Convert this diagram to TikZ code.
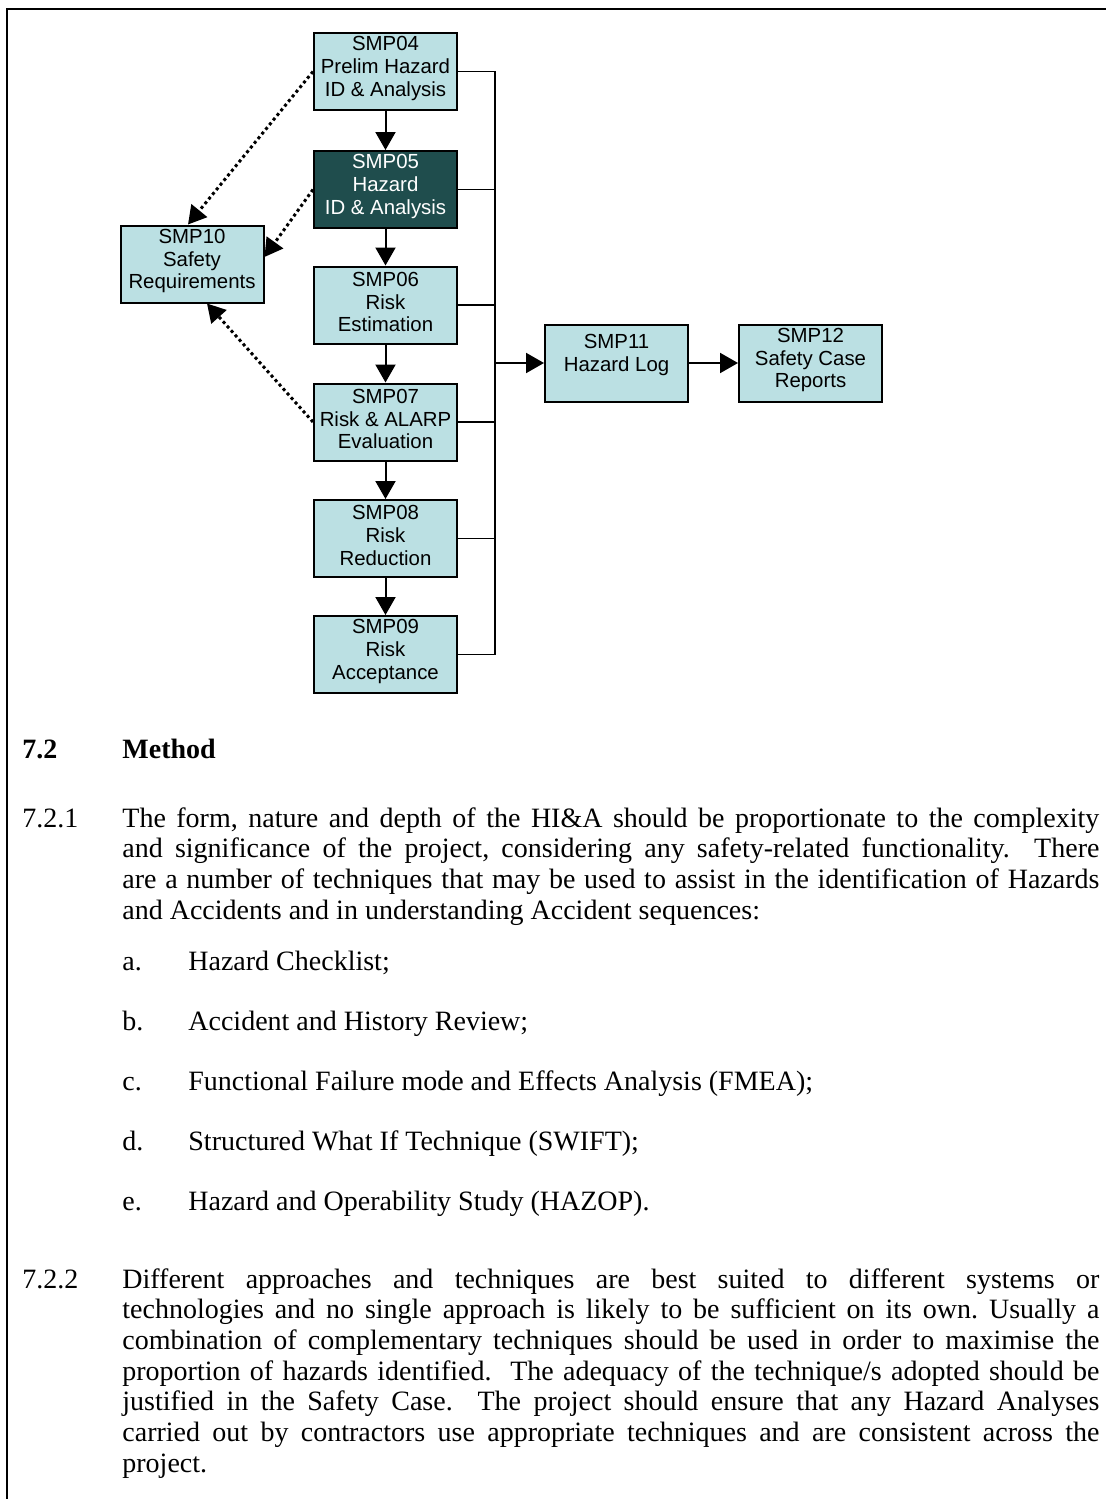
\documentclass[tikz,border=0pt]{standalone}
\usepackage{fontspec}
\setmainfont{Liberation Serif}
\newfontfamily\boxfont{Liberation Sans}
\usetikzlibrary{arrows.meta}
\definecolor{boxfill}{RGB}{187,224,227}
\definecolor{darkbox}{RGB}{31,77,77}
\newcommand\jline[1]{\makebox[488.5pt][s]{#1}}
\frenchspacing
\begin{document}
\begin{tikzpicture}[x=0.5pt,y=-0.5pt,
  smp/.style={draw=black, line width=1pt, fill=boxfill, minimum width=71.5pt, minimum height=38.5pt, inner sep=0pt},
  smpdark/.style={smp, fill=darkbox},
  smptext/.style={font=\boxfont\fontsize{10.2pt}{11.4pt}\selectfont, align=center, inner sep=0pt, yshift=1.5pt},
  flow/.style={line width=1pt, -{Triangle[length=9pt,width=10pt]}},
  dots/.style={line width=1.5pt, dash pattern=on 1.5pt off 1.5pt, -{Triangle[length=9pt,width=10pt]}},
  bus/.style={line width=0.8pt},
  body/.style={font=\fontsize{14pt}{15.35pt}\selectfont, inner sep=0pt, anchor=base west},
  bodyb/.style={body, font=\fontsize{14pt}{15.35pt}\selectfont\bfseries},
]
\useasboundingbox (0,0) rectangle (1106,1499);
% frame
\draw[line width=1pt] (7,1499) -- (7,8.5) -- (1106,8.5);

% boxes
\node[smp] (s04) at (385.5,71.5) {};
\node[smptext] (t04) at (s04) {SMP04\\Prelim Hazard\\ID \& Analysis};
\node[smpdark] (s05) at (385.5,189.5) {};
\node[smptext, text=white] (t05) at (s05) {SMP05\\Hazard\\ID \& Analysis};
\node[smp] (s06) at (385.5,305) {};
\node[smptext] (t06) at (s06) {SMP06\\Risk\\Estimation};
\node[smp] (s07) at (385.5,422) {};
\node[smptext] (t07) at (s07) {SMP07\\Risk \& ALARP\\Evaluation};
\node[smp] (s08) at (385.5,538.5) {};
\node[smptext] (t08) at (s08) {SMP08\\Risk\\Reduction};
\node[smp] (s09) at (385.5,654.5) {};
\node[smptext] (t09) at (s09) {SMP09\\Risk\\Acceptance};
\node[smp] (s10) at (192,264) {};
\node[smptext] (t10) at (s10) {SMP10\\Safety\\Requirements};
\node[smp] (s11) at (616.5,363) {};
\node[smptext] (t11) at ([yshift=2.5pt]s11.center) {SMP11\\Hazard Log};
\node[smp] (s12) at (810.5,363) {};
\node[smptext] (t12) at (s12) {SMP12\\Safety Case\\Reports};

% vertical flow
\draw[flow] (s04) -- (s05);
\draw[flow] (s05) -- (s06);
\draw[flow] (s06) -- (s07);
\draw[flow] (s07) -- (s08);
\draw[flow] (s08) -- (s09);

% bus
\coordinate (bt) at (495,71.5);
\coordinate (bj) at (495,363);
\draw[bus] (s04.east) -- (bt) |- (s09.east);
\draw[bus] (s05.east) -- (s05.east -| bt);
\draw[bus] (s06.east) -- (s06.east -| bt);
\draw[bus] (s07.east) -- (s07.east -| bt);
\draw[bus] (s08.east) -- (s08.east -| bt);
\draw[flow] (bj) -- (s11.west);
\draw[flow] (s11.east) -- (s12.west);

% dotted links to SMP10
\draw[dots] (s04.west) -- ([xshift=-2pt]s10.north);
\draw[dots] (s05.west) -- ([yshift=3.5pt]s10.east);
\draw[dots] (s07.west) -- ([xshift=7.5pt]s10.south);

% text
\node[bodyb] (h72) at (22,758) {7.2};
\node[bodyb] (hm) at (122,758) {Method};

\node[body] (n721) at (22,827) {7.2.1};
\node[body] (p11) at (122,827) {\jline{The form, nature and depth of the HI\&A should be proportionate to the complexity}};
\node[body] (p12) at (122,857.7) {\jline{and significance of the project, considering any safety-related functionality.\ \ There}};
\node[body] (p13) at (122,888.4) {\jline{are a number of techniques that may be used to assist in the identification of Hazards}};
\node[body] (p14) at (122,919.1) {and Accidents and in understanding Accident sequences:};

\node[body] (la) at (122,970) {a.};
\node[body] (ia) at (188,970) {Hazard Checklist;};
\node[body] (lb) at (122,1030) {b.};
\node[body] (ib) at (188,1030) {Accident and History Review;};
\node[body] (lc) at (122,1090) {c.};
\node[body] (ic) at (188,1090) {Functional Failure mode and Effects Analysis (FMEA);};
\node[body] (ld) at (122,1150) {d.};
\node[body] (id) at (188,1150) {Structured What If Technique (SWIFT);};
\node[body] (le) at (122,1210) {e.};
\node[body] (ie) at (188,1210) {Hazard and Operability Study (HAZOP).};

\node[body] (n722) at (22,1288) {7.2.2};
\node[body] (p21) at (122,1288) {\jline{Different approaches and techniques are best suited to different systems or}};
\node[body] (p22) at (122,1318.7) {\jline{technologies and no single approach is likely to be sufficient on its own. Usually a}};
\node[body] (p23) at (122,1349.4) {\jline{combination of complementary techniques should be used in order to maximise the}};
\node[body] (p24) at (122,1380.1) {\jline{proportion of hazards identified.\ \ The adequacy of the technique/s adopted should be}};
\node[body] (p25) at (122,1410.8) {\jline{justified in the Safety Case.\ \ The project should ensure that any Hazard Analyses}};
\node[body] (p26) at (122,1441.5) {\jline{carried out by contractors use appropriate techniques and are consistent across the}};
\node[body] (p27) at (122,1472.2) {project.};
\end{tikzpicture}
\end{document}
